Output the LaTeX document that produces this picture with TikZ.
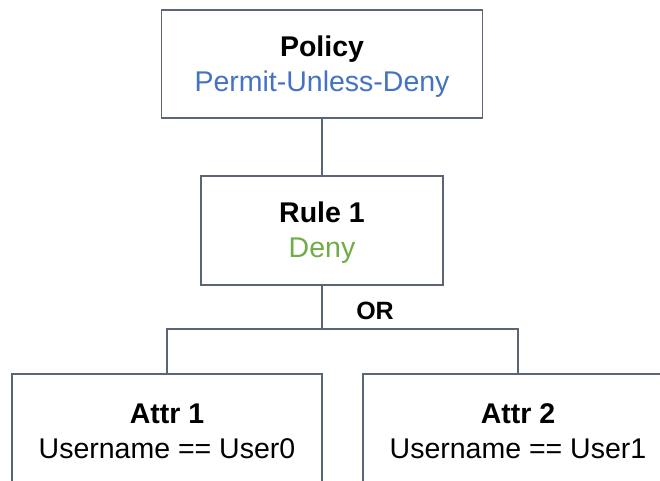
\documentclass[tikz,border=0pt]{standalone}
\usepackage{fontspec}
\setmainfont{Liberation Sans}
\definecolor{edge}{RGB}{90,101,117}
\definecolor{permit}{RGB}{68,114,196}
\definecolor{deny}{RGB}{112,173,71}
\begin{document}
\begin{tikzpicture}[x=1pt,y=-1pt,
  box/.style={draw=edge, line width=1.4pt, fill=white, inner sep=0pt},
  lbl/.style={inner sep=0pt, align=center, font=\fontsize{28.5}{35}\selectfont},
  conn/.style={draw=edge, line width=1.4pt}]
\useasboundingbox (0,0) rectangle (660,480);
\clip (0,0) rectangle (660,480);

% policy and rule boxes
\node[box, minimum width=321pt, minimum height=108pt] (policy) at (322,64) {};
\node[box, minimum width=242pt, minimum height=109pt] (rule) at (322,230.5) {};
% attribute boxes (run past the lower edge)
\node[box, minimum width=310pt, minimum height=110pt] (a1) at (167,429) {};
\node[box, minimum width=310pt, minimum height=110pt] (a2) at (518,429) {};

% box texts
\node[lbl] (policyt) at ([yshift=-2.5pt]policy.center) {\textbf{Policy}\\\textcolor{permit}{Permit-Unless-Deny}};
\node[lbl] (rulet) at ([yshift=-2.5pt]rule.center) {\textbf{Rule 1}\\\textcolor{deny}{Deny}};
\node[lbl] (a1t) at ([yshift=-2.5pt]a1.center) {\textbf{Attr 1}\\Username == User0};
\node[lbl] (a2t) at ([yshift=-2.5pt]a2.center) {\textbf{Attr 2}\\Username == User1};

% connectors
\coordinate (orj) at (322,329);
\draw[conn] (policy.south) -- (rule.north);
\draw[conn] (rule.south) -- (orj);
\draw[conn] (a1.north) |- (orj) -| (a2.north);
\node[lbl, font=\fontsize{25}{28}\selectfont\bfseries] (or) at (375,310.5) {OR};
\end{tikzpicture}
\end{document}
